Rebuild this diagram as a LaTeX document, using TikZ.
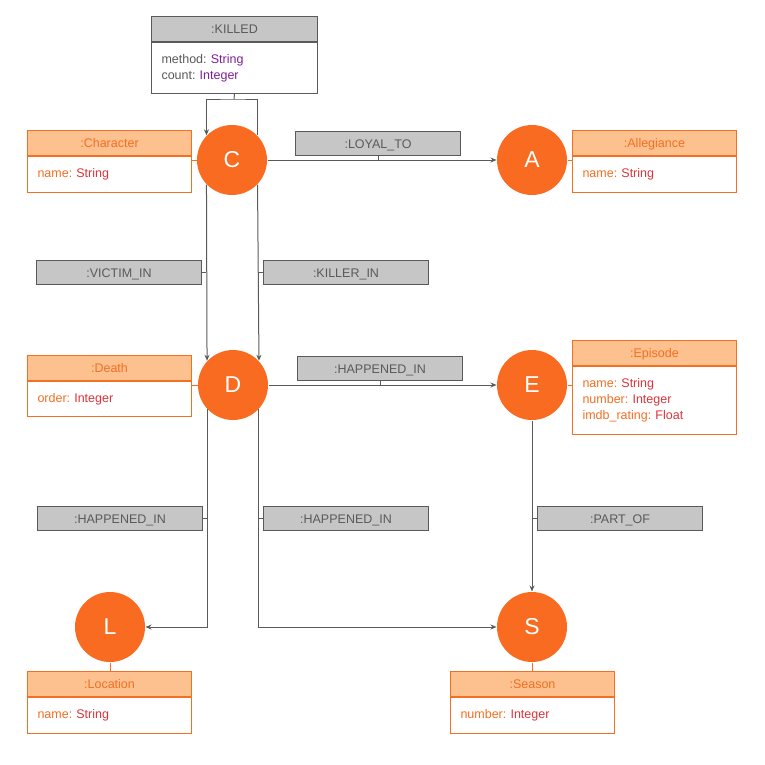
\documentclass[tikz,border=0pt]{standalone}
\usepackage{fontspec}
\setmainfont{Liberation Sans}
\usetikzlibrary{arrows.meta}
\definecolor{nodefill}{HTML}{F96B21}
\definecolor{headfill}{HTML}{FDC08F}
\definecolor{attrline}{HTML}{F36F21}
\definecolor{typered}{HTML}{DB3439}
\definecolor{typepurple}{HTML}{7E1F9A}
\definecolor{relfill}{HTML}{C6C6C6}
\definecolor{relline}{HTML}{5A5A5A}
\newcommand{\kv}[2]{\textcolor{attrline}{#1:}\ \textcolor{typered}{#2}}
\newcommand{\kvrel}[2]{\textcolor{relline}{#1:}\ \textcolor{typepurple}{#2}}
\frenchspacing

\begin{document}
\begin{tikzpicture}[x=1pt,y=-1pt,
    %
    entity/.style={circle, fill=nodefill, text=white, minimum size=70pt,
    inner sep=0pt, font=\fontsize{23}{24}\selectfont},
    head/.style={rectangle, draw=attrline, fill=headfill, text=attrline,
    minimum width=164pt, minimum height=25pt, inner sep=0pt, anchor=north west,
    text height=9pt, text depth=0pt},
    body/.style={rectangle, draw=attrline, fill=white, text width=144pt,
    inner xsep=10pt, inner ysep=0pt, align=left, anchor=north west}]
    \tikzstyle{every node}=[font=\fontsize{12.5}{16}\selectfont, line width=1pt]
    \tikzstyle{label}=[rectangle, draw=relline, fill=relfill, text=relline,
    minimum width=165pt, minimum height=24pt, inner sep=0pt, anchor=north west,
    text height=9pt, text depth=0pt]
    \tikzstyle{rel}=[draw=relline, line width=1pt, -{Stealth[length=6pt,width=5pt]}]
    \tikzstyle{tick}=[draw=relline, line width=1pt]
    \tikzstyle{attrtick}=[draw=attrline, line width=1pt]
    \useasboundingbox (0,0) rectangle (765,764);

    % relationship with properties
    \node[head, draw=relline, fill=relfill, text=relline, minimum width=166pt]
        (killH) at (151,16) {:KILLED};
    \node[body, draw=relline, text width=146pt, minimum height=51pt]
        (killB) at (killH.south west) {\kvrel{method}{String}\\\kvrel{count}{Integer}};

    % labels with their properties
    \node[head] (charH) at (27,130) {:Character};
    \node[body, minimum height=36pt] (charB) at (charH.south west) {\kv{name}{String}};
    \node[head] (allegH) at (572,130) {:Allegiance};
    \node[body, minimum height=36pt] (allegB) at (allegH.south west) {\kv{name}{String}};
    \node[head] (deathH) at (27,355) {:Death};
    \node[body, minimum height=35pt] (deathB) at (deathH.south west) {\kv{order}{Integer}};
    \node[head] (epH) at (572,340) {:Episode};
    \node[body, minimum height=68pt] (epB) at (epH.south west)
        {\kv{name}{String}\\\kv{number}{Integer}\\\kv{imdb\_rating}{Float}};
    \node[head] (locH) at (27,671) {:Location};
    \node[body, minimum height=36pt] (locB) at (locH.south west) {\kv{name}{String}};
    \node[head] (seasH) at (450,671) {:Season};
    \node[body, minimum height=36pt] (seasB) at (seasH.south west) {\kv{number}{Integer}};

    % nodes
    \node[entity] (C) at (232,160) {C};
    \node[entity] (A) at (532,160) {A};
    \node[entity] (D) at (233,385) {D};
    \node[entity] (E) at (532,385) {E};
    \node[entity] (L) at (110,627) {L};
    \node[entity] (S) at (532,627) {S};

    % relationship labels
    \node[label] (loyal) at (295,131) {:LOYAL\_TO};
    \node[label] (victim) at (36,260) {:VICTIM\_IN};
    \node[label] (killer) at (263,260) {:KILLER\_IN};
    \node[label] (happD) at (297,356) {:HAPPENED\_IN};
    \node[label] (happL) at (37,506) {:HAPPENED\_IN};
    \node[label] (happS) at (263,506) {:HAPPENED\_IN};
    \node[label] (partof) at (537,506) {:PART\_OF};
    \coordinate (loop) at (234,99);

    % relationships
    \draw[rel] (C.44) |- (loop) -| (C.136);
    \draw[rel] (C) -- (A);
    \draw[rel] (C.-136) -- (D.137);
    \draw[rel] (C.-44) -- (D.43);
    \draw[rel] (D) -- (E);
    \draw[rel] (D.-137) |- (L.east);
    \draw[rel] (D.-43) |- (S.west);
    \draw[rel] (E) -- (S);

    \draw[tick] (killB.south) -- (loop);
    \draw[tick] (loyal.south) -- (loyal.south |- C);
    \draw[tick] (victim.east) -- (victim.east -| C.-136);
    \draw[tick] (killer.west) -- (killer.west -| C.-44);
    \draw[tick] (happD.south) -- (happD.south |- D);
    \draw[tick] (happL.east) -- (happL.east -| D.-137);
    \draw[tick] (happS.west) -- (happS.west -| D.-43);
    \draw[tick] (partof.west) -- (partof.west -| E);

    % attribute boxes
    \draw[attrtick] (C.west) -- (C.west -| charB.east);
    \draw[attrtick] (A.east) -- (A.east -| allegB.west);
    \draw[attrtick] (D.west) -- (D.west -| deathB.east);
    \draw[attrtick] (E.east) -- (E.east -| epB.west);
    \draw[attrtick] (L.south) -- (L.south |- locH.north);
    \draw[attrtick] (S.south) -- (S.south |- seasH.north);
\end{tikzpicture}
\end{document}
